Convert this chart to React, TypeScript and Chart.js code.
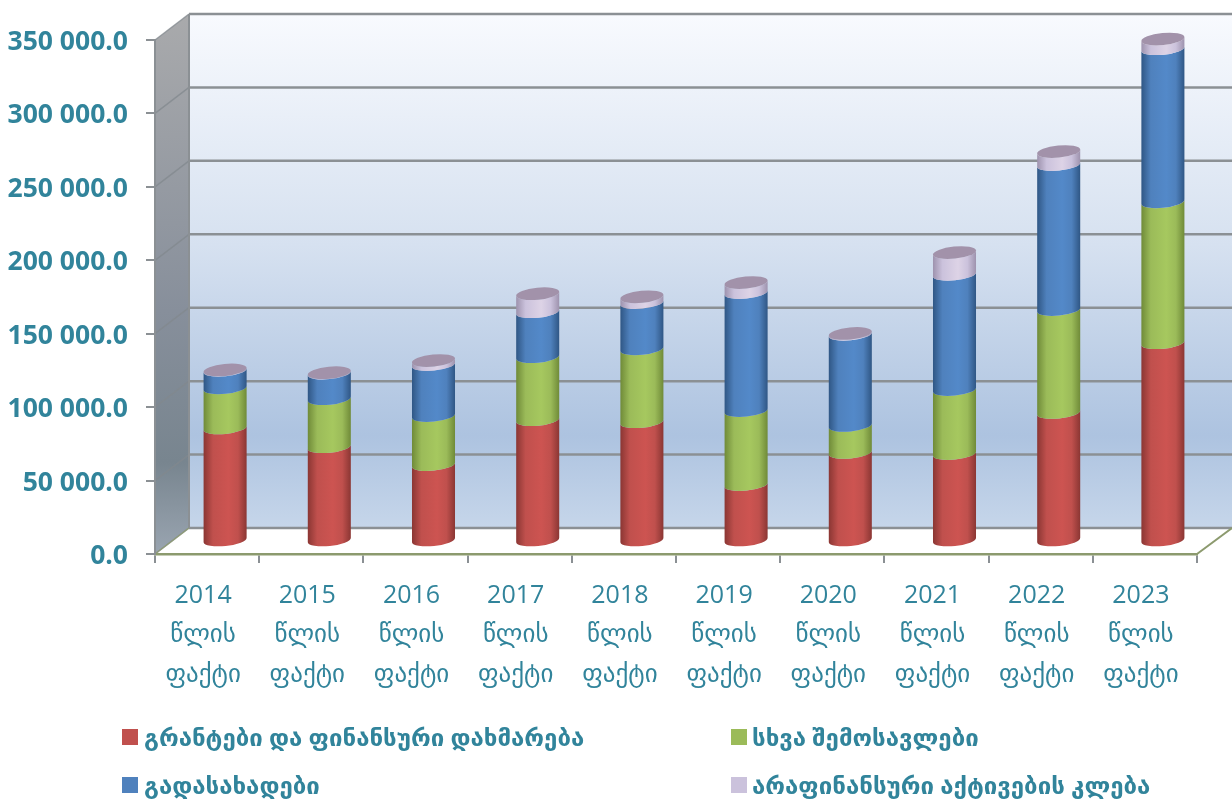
import React, { useEffect, useRef } from "react";
import { Chart, registerables } from "chart.js";

Chart.register(...registerables);

const years = ["2014", "2015", "2016", "2017", "2018", "2019", "2020", "2021", "2022", "2023"];
const lineTwo = "წლის";
const lineThree = "ფაქტი";
const grants = [77000, 64200, 52000, 82600, 81200, 38400, 60300, 59500, 87500, 135000];
const otherRevenue = [27300, 32700, 33400, 42900, 49700, 50400, 18400, 43600, 70100, 96000];
const taxes = [11900, 17400, 34700, 30600, 31400, 80400, 62000, 78500, 98700, 104200];
const nonFinancial = [300, 300, 2800, 12300, 4000, 6800, 600, 14800, 8900, 6600];
const seriesNames = [
  "გრანტები და ფინანსური დახმარება",
  "სხვა შემოსავლები",
  "გადასახადები",
  "არაფინანსური აქტივების კლება",
];
const seriesColors = ["#c0504d", "#9bbb59", "#4f81bd", "#cbc2dc"];
const edgeColors = ["#8a3633", "#6f8a38", "#2f5684", "#9d92ad"];
const midColors = ["#cd5451", "#a6c85f", "#5389c9", "#ddd3e6"];
const capColor = "#a292aa";

const TEAL = "#31849b";
const GRID = "#8b9094";
const OLIVE = "#8c9a6e";
const FONT = '"Open Sans", "DejaVu Sans", sans-serif';
const DX = 34;
const DY = -26;
const BAR_DX = 18;
const RY = 6;
const TILT = -0.1;

const scene = {
  id: "scene",
  beforeDraw(chart: any) {
    const { ctx, chartArea: a, scales } = chart;
    const y = scales.y;
    const W = chart.width;
    const tl = [a.left, a.top];
    const bl = [a.left, a.bottom];
    const btl = [a.left + DX, a.top + DY];
    const bbl = [a.left + DX, a.bottom + DY];
    ctx.save();
    const g = ctx.createLinearGradient(0, btl[1], 0, bbl[1]);
    g.addColorStop(0, "#f8fafe");
    g.addColorStop(0.45, "#d6e1f0");
    g.addColorStop(0.82, "#adc3e0");
    g.addColorStop(1, "#c6d6ea");
    ctx.fillStyle = g;
    ctx.fillRect(btl[0], btl[1], W - btl[0], bbl[1] - btl[1]);
    const s = ctx.createLinearGradient(0, btl[1], 0, a.bottom);
    s.addColorStop(0, "#a9aaac");
    s.addColorStop(0.55, "#878f9b");
    s.addColorStop(0.83, "#78858f");
    s.addColorStop(1, "#9aa5b1");
    ctx.fillStyle = s;
    ctx.beginPath();
    ctx.moveTo(tl[0], tl[1]);
    ctx.lineTo(btl[0], btl[1]);
    ctx.lineTo(bbl[0], bbl[1]);
    ctx.lineTo(bl[0], bl[1]);
    ctx.closePath();
    ctx.fill();
    ctx.fillStyle = "#ffffff";
    ctx.beginPath();
    ctx.moveTo(bl[0], bl[1]);
    ctx.lineTo(bbl[0], bbl[1]);
    ctx.lineTo(W, bbl[1]);
    ctx.lineTo(a.right, a.bottom);
    ctx.closePath();
    ctx.fill();
    y.ticks.forEach((t: any) => {
      const py = y.getPixelForValue(t.value);
      ctx.strokeStyle = "rgba(130,136,142,0.75)";
      ctx.lineWidth = 1.5;
      ctx.beginPath();
      ctx.moveTo(a.left, py);
      ctx.lineTo(a.left + DX, py + DY);
      ctx.stroke();
      ctx.strokeStyle = GRID;
      ctx.lineWidth = 2.5;
      ctx.beginPath();
      ctx.moveTo(a.left + DX, py + DY);
      ctx.lineTo(W, py + DY);
      ctx.stroke();
    });
    ctx.strokeStyle = GRID;
    ctx.lineWidth = 2;
    ctx.beginPath();
    ctx.moveTo(bbl[0], bbl[1]);
    ctx.lineTo(btl[0], btl[1]);
    ctx.stroke();
    ctx.strokeStyle = OLIVE;
    ctx.beginPath();
    ctx.moveTo(a.right, a.bottom);
    ctx.lineTo(W, bbl[1]);
    ctx.stroke();
    ctx.beginPath();
    ctx.moveTo(bl[0], bl[1]);
    ctx.lineTo(bbl[0], bbl[1]);
    ctx.strokeStyle = "rgba(140,154,110,0.8)";
    ctx.lineWidth = 1.5;
    ctx.stroke();
    ctx.restore();
  },
  beforeDatasetsDraw(chart: any) {
    const { ctx } = chart;
    const n = chart.data.datasets.length;
    ctx.save();
    for (let d = 0; d < n; d++) {
      const meta = chart.getDatasetMeta(d);
      meta.data.forEach((el: any) => {
        const { x, y, base, width } = el.getProps(["x", "y", "base", "width"], true);
        const cx = x + BAR_DX;
        const top = y + DY / 2;
        const bot = base + DY / 2;
        const rx = width / 2;
        const gr = ctx.createLinearGradient(cx - rx, 0, cx + rx, 0);
        gr.addColorStop(0, edgeColors[d]);
        gr.addColorStop(0.22, seriesColors[d]);
        gr.addColorStop(0.58, midColors[d]);
        gr.addColorStop(0.8, seriesColors[d]);
        gr.addColorStop(1, edgeColors[d]);
        ctx.fillStyle = gr;
        ctx.beginPath();
        ctx.ellipse(cx, bot, rx, RY, TILT, 0, Math.PI, false);
        ctx.ellipse(cx, top, rx, RY, TILT, Math.PI, 0, true);
        ctx.closePath();
        ctx.fill();
        if (d === n - 1) {
          ctx.fillStyle = capColor;
          ctx.beginPath();
          ctx.ellipse(cx, top, rx, RY, TILT, 0, Math.PI * 2);
          ctx.fill();
        }
      });
    }
    ctx.restore();
  },
  beforeDatasetDraw() {
    return false;
  },
  afterDraw(chart: any) {
    const { ctx } = chart;
    const cols = [122, 731];
    const rows = [729, 777];
    ctx.save();
    ctx.textBaseline = "middle";
    ctx.textAlign = "left";
    ctx.font = `bold 24px ${FONT}`;
    chart.data.datasets.forEach((ds: any, i: number) => {
      const lx = cols[i % 2];
      const ly = rows[Math.floor(i / 2)];
      ctx.fillStyle = seriesColors[i];
      ctx.fillRect(lx, ly, 16, 16);
      ctx.fillStyle = TEAL;
      ctx.fillText(ds.label, lx + (i % 2 ? 21 : 22), ly + 10.5);
    });
    ctx.restore();
  },
};

export default function App() {
  const ref = useRef<HTMLCanvasElement>(null);
  useEffect(() => {
    const values = [grants, otherRevenue, taxes, nonFinancial];
    const chart = new Chart(ref.current as HTMLCanvasElement, {
      type: "bar",
      data: {
        labels: years.map((yr) => [yr, lineTwo, lineThree]),
        datasets: seriesNames.map((label, i) => ({
          label,
          data: values[i],
          backgroundColor: seriesColors[i],
          categoryPercentage: 1,
          barPercentage: 0.415,
        })),
      },
      options: {
        responsive: false,
        animation: false,
        devicePixelRatio: 1,
        layout: { padding: { top: 40, right: 35, left: 0, bottom: 0 } },
        plugins: { legend: { display: false }, tooltip: { enabled: false } },
        scales: {
          x: {
            stacked: true,
            afterFit: (s: any) => {
              s.height = 250;
            },
            grid: { drawOnChartArea: false, color: GRID, lineWidth: 2, tickLength: 9, offset: true },
            border: { color: OLIVE, width: 2.5 },
            ticks: {
              color: TEAL,
              font: { family: FONT, size: 25, lineHeight: 1.58 },
              padding: 13,
              labelOffset: -4,
              maxRotation: 0,
              autoSkip: false,
            },
          },
          y: {
            stacked: true,
            min: 0,
            max: 350000,
            afterFit: (s: any) => {
              s.width = 155;
            },
            grid: { drawOnChartArea: false, color: GRID, lineWidth: 2, tickLength: 9 },
            border: { color: GRID, width: 2 },
            ticks: {
              stepSize: 50000,
              color: TEAL,
              padding: 18,
              labelOffset: 2.5,
              font: { family: FONT, size: 26.5, weight: "bold" },
              callback: (v: any) => {
                const n = Number(v);
                const th = Math.floor(n / 1000);
                return th === 0 ? "0.0" : `${th} 000.0`;
              },
            },
          },
        },
      } as any,
      plugins: [scene],
    });
    return () => chart.destroy();
  }, []);
  return (
    <div style={{ position: "fixed", left: 0, top: 0, width: 1232, height: 804, background: "#fff" }}>
      <canvas ref={ref} width={1232} height={804} style={{ display: "block" }} />
    </div>
  );
}
